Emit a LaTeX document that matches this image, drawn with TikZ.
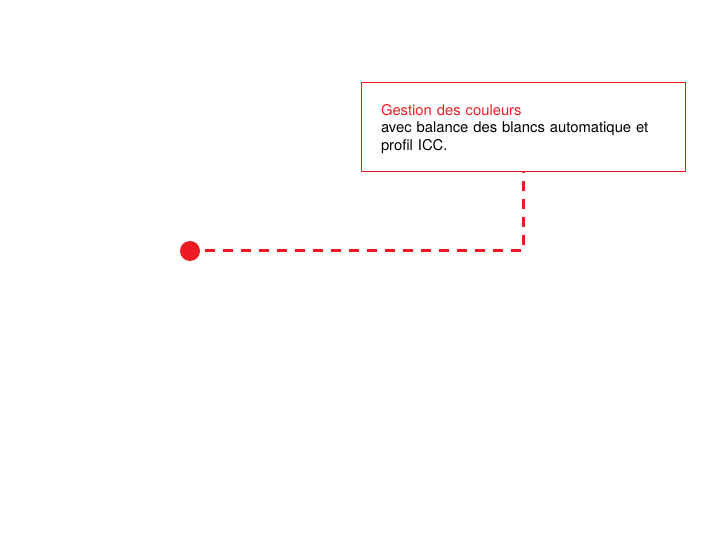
\documentclass[tikz,border=0pt]{standalone}
\usepackage{fontspec}
\setmainfont{TeX Gyre Heros}
\usetikzlibrary{positioning}
\definecolor{signred}{HTML}{ED1C24}
\tikzset{infobox/.style={draw=signred, line width=0.9pt, minimum width=324pt, minimum height=89pt,
    text width=284pt, align=left, inner sep=0pt, font=\fontsize{14.8}{17.5}\selectfont}}
\tikzset{leader/.style={draw=signred, line width=3pt, dash pattern=on 10pt off 8pt}}

\begin{document}
\begin{tikzpicture}[x=1pt, y=-1pt]

\useasboundingbox (0,0) rectangle (718,540);

\def \dotr {10pt} % radius of the red dot

  \node[infobox] (info) at (523,127)
    {\rule{0pt}{15pt}{\color{signred}Gestion des couleurs}\\avec balance des blancs automatique et\\profil ICC.};
  \node[circle, fill=signred, minimum size=2*\dotr, inner sep=0pt] (dot) at (190,251) {};
  \coordinate (bend) at (523,251);

\path[leader] ([xshift=5pt]dot.east) -- (bend) -- (info.south);

\end{tikzpicture}
\end{document}
